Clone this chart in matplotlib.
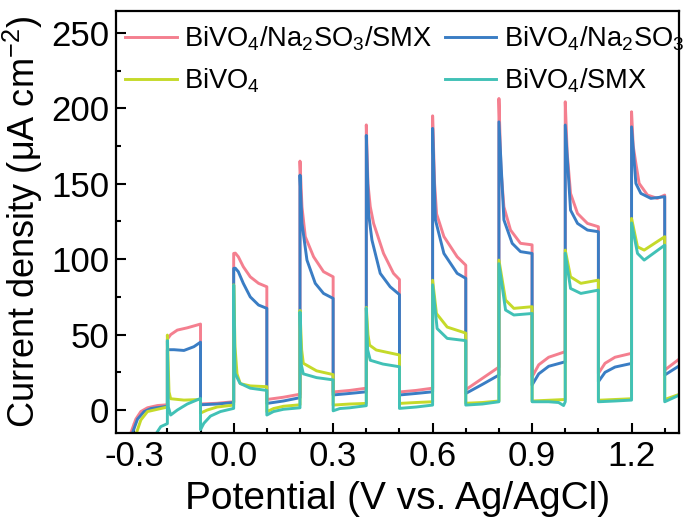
import matplotlib
matplotlib.use('Agg')
import matplotlib.pyplot as plt
from matplotlib.ticker import MultipleLocator, FormatStrFormatter

plt.rcParams['font.family'] = ['Liberation Sans', 'DejaVu Sans']
plt.rcParams['mathtext.fontset'] = 'custom'
plt.rcParams['mathtext.rm'] = 'Liberation Sans'
plt.rcParams['mathtext.it'] = 'Liberation Sans:italic'
plt.rcParams['mathtext.bf'] = 'Liberation Sans:bold'
plt.rcParams['axes.unicode_minus'] = False

# chopped-light LSV as (potential, current) vertices
v_pink = [-0.31, -0.295, -0.28, -0.26, -0.23, -0.2,
          -0.2, -0.19, -0.17, -0.14, -0.1,
          -0.1, -0.05, 0.0,
          0.0, 0.005, 0.014, 0.029, 0.05, 0.075, 0.1,
          0.1, 0.15, 0.2,
          0.2, 0.206, 0.216, 0.241, 0.271, 0.3,
          0.3, 0.35, 0.4,
          0.4, 0.405, 0.412, 0.422, 0.452, 0.482, 0.5,
          0.5, 0.55, 0.6,
          0.6, 0.606, 0.612, 0.634, 0.674, 0.7,
          0.7, 0.75, 0.8,
          0.8, 0.806, 0.815, 0.835, 0.865, 0.9,
          0.9, 0.92, 0.95, 1.0,
          1.0, 1.006, 1.016, 1.037, 1.067, 1.1,
          1.1, 1.12, 1.15, 1.2,
          1.2, 1.205, 1.213, 1.223, 1.248, 1.278, 1.3,
          1.3, 1.345]
j_pink = [-15, -6, -1, 1.5, 3, 3.5,
          47, 50, 53, 54.5, 57,
          4, 4.5, 5.5,
          103.8, 104, 101.6, 95, 88.3, 84, 81.7,
          7, 8.5, 10.5,
          165, 134.7, 114.9, 101.6, 91.7, 88.3,
          12, 13, 14.5,
          189, 150, 134.7, 123.7, 103.8, 90.6, 86.5,
          12, 13, 14.5,
          195, 150, 130, 115, 101.6, 96,
          13.5, 21, 28.5,
          206.5, 160, 134.7, 119.3, 110.5, 109.5,
          22, 30, 35, 38.7,
          204.3, 170, 143.6, 130.3, 123.7, 121.5,
          24.3, 31, 35, 37.6,
          197.7, 175, 163.5, 150.2, 142.5, 140.3, 142.5,
          26.5, 34]

v_blue = [-0.305, -0.29, -0.27, -0.25, -0.2,
          -0.2, -0.18, -0.15, -0.12, -0.1,
          -0.1, -0.05, 0.0,
          0.0, 0.005, 0.014, 0.029, 0.05, 0.075, 0.1,
          0.1, 0.15, 0.2,
          0.2, 0.206, 0.221, 0.246, 0.271, 0.3,
          0.3, 0.35, 0.4,
          0.4, 0.407, 0.417, 0.442, 0.472, 0.5,
          0.5, 0.55, 0.6,
          0.6, 0.6085, 0.634, 0.674, 0.7,
          0.7, 0.75, 0.8,
          0.8, 0.815, 0.84, 0.865, 0.9,
          0.9, 0.92, 0.95, 1.0,
          1.0, 1.016, 1.037, 1.067, 1.1,
          1.1, 1.12, 1.15, 1.2,
          1.2, 1.213, 1.228, 1.258, 1.3,
          1.3, 1.345]
j_blue = [-15, -6, -1, 1, 2.5,
          40, 40, 39.5, 42, 45,
          3.5, 4, 5,
          93.9, 94, 91.7, 84, 75, 69.6, 67.4,
          4.4, 6, 8.2,
          155.7, 123.7, 99.4, 84, 77.3, 74,
          10, 11, 12.1,
          182, 130, 112.7, 90.6, 81.7, 76.5,
          10, 11, 12.1,
          186.7, 126, 103.8, 90.6, 87.3,
          11, 17, 23.2,
          191, 126, 110.5, 105, 103.8,
          16.6, 24, 29, 32,
          188.9, 132.5, 123.7, 119.3, 118.2,
          18.8, 25, 28.5, 30.9,
          187.7, 150.2, 143.6, 140.3, 141.4,
          23.2, 29.5]

v_yellow = [-0.293, -0.28, -0.26, -0.24, -0.2,
            -0.2, -0.195, -0.19, -0.15, -0.1,
            -0.1, -0.08, -0.05, 0.0,
            0.0, 0.004, 0.01, 0.02, 0.05, 0.1,
            0.1, 0.12, 0.15, 0.2,
            0.2, 0.205, 0.21, 0.25, 0.3,
            0.3, 0.35, 0.4,
            0.4, 0.405, 0.41, 0.43, 0.5,
            0.5, 0.55, 0.6,
            0.6, 0.6115, 0.644, 0.7,
            0.7, 0.75, 0.8,
            0.8, 0.82, 0.845, 0.9,
            0.9, 0.95, 1.0,
            1.0, 1.016, 1.047, 1.1,
            1.1, 1.15, 1.2,
            1.2, 1.218, 1.238, 1.3,
            1.3, 1.345]
j_yellow = [-15, -6.6, -1, 0, 2,
            49.7, 12, 7.5, 6.6, 7,
            -2, 0, 2, 3.3,
            83, 42, 24, 17.5, 16, 15.5,
            -1.1, 1, 2.5, 3.5,
            66, 40, 31, 26, 23.5,
            3.3, 4, 4.4,
            68, 50, 43, 39.8, 36.5,
            4.4, 5, 5.5,
            86, 64, 55, 51,
            4.5, 5, 6,
            99.4, 72.9, 67.4, 68.5,
            6, 6.5, 7,
            106, 88.3, 84, 86.1,
            6.5, 7, 7.5,
            127, 108.2, 106, 114.9,
            7, 10.5]

v_teal = [-0.232, -0.22, -0.2,
          -0.2, -0.197, -0.19, -0.17, -0.14, -0.1,
          -0.1, -0.09, -0.07, -0.04, 0.0,
          0.0, 0.004, 0.019, 0.05, 0.1,
          0.1, 0.12, 0.15, 0.2,
          0.2, 0.204, 0.21, 0.25, 0.3,
          0.3, 0.32, 0.35, 0.4,
          0.4, 0.404, 0.412, 0.45, 0.5,
          0.5, 0.55, 0.6,
          0.6, 0.6136, 0.644, 0.7,
          0.7, 0.75, 0.8,
          0.8, 0.82, 0.845, 0.9,
          0.9, 0.95, 0.98, 0.995, 1.0,
          1.0, 1.016, 1.047, 1.1,
          1.1, 1.15, 1.2,
          1.2, 1.218, 1.238, 1.3,
          1.3, 1.345]
j_teal = [-15, -11, -9,
          46, 2, -3.3, 0, 4, 7.7,
          -13, -8.8, -4, -1, 1.1,
          82.8, 24.3, 17.7, 14.5, 13,
          -3.3, -1, 0.5, 1.5,
          65, 30, 24, 21.5, 20,
          -0.5, 1, 1.5, 2.9,
          67.5, 40, 33, 30.5, 28.7,
          1.1, 2, 3.3,
          83, 54, 47.5, 46,
          3.3, 4, 5.5,
          97, 66.3, 63, 64,
          5.5, 5.5, 5, 3, 5.5,
          104, 80.6, 77.3, 79.5,
          5.5, 6, 6.6,
          124, 103.8, 99.4, 109.3,
          5.5, 10]

labels = ['BiVO$_4$/Na$_2$SO$_3$/SMX', 'BiVO$_4$/Na$_2$SO$_3$',
          'BiVO$_4$', 'BiVO$_4$/SMX']
colors = ['#f47f8f', '#3a7dc4', '#c5da2a', '#41c1b6']

fig = plt.figure(figsize=(6.85, 5.18), dpi=100)
ax = fig.add_axes([0.1693, 0.1647, 0.8219, 0.8141])

l1, = ax.plot(v_pink, j_pink, color=colors[0], lw=2.1, label=labels[0])
l2, = ax.plot(v_blue, j_blue, color=colors[1], lw=2.1, label=labels[1])
l3, = ax.plot(v_yellow, j_yellow, color=colors[2], lw=2.1, label=labels[2])
l4, = ax.plot(v_teal, j_teal, color=colors[3], lw=2.1, label=labels[3])

ax.set_xlim(-0.355, 1.343)
ax.set_ylim(-15, 264.5)
ax.xaxis.set_major_locator(MultipleLocator(0.3))
ax.xaxis.set_minor_locator(MultipleLocator(0.1))
ax.xaxis.set_major_formatter(FormatStrFormatter('%.1f'))
ax.yaxis.set_major_locator(MultipleLocator(50))
ax.yaxis.set_minor_locator(MultipleLocator(25))
ax.tick_params(which='both', direction='in', width=1.5, labelsize=25, pad=5,
               top=False, right=False)
ax.tick_params(which='major', length=7)
ax.tick_params(which='minor', length=3.5)
for s in ax.spines.values():
    s.set_linewidth(1.6)

ax.set_xlabel('Potential (V vs. Ag/AgCl)', fontsize=28, labelpad=6)
ax.set_ylabel('Current density (μA cm$^{-2}$)', fontsize=26, labelpad=4)

ax.legend(handles=[l1, l3, l2, l4], ncol=2, frameon=False, fontsize=19.6,
          loc='upper left', bbox_to_anchor=(0.016, 0.968), borderaxespad=0,
          borderpad=0, handlelength=1.9, handletextpad=0.27,
          columnspacing=0.45, labelspacing=0.5)

fig.savefig('out.png', dpi=100)
